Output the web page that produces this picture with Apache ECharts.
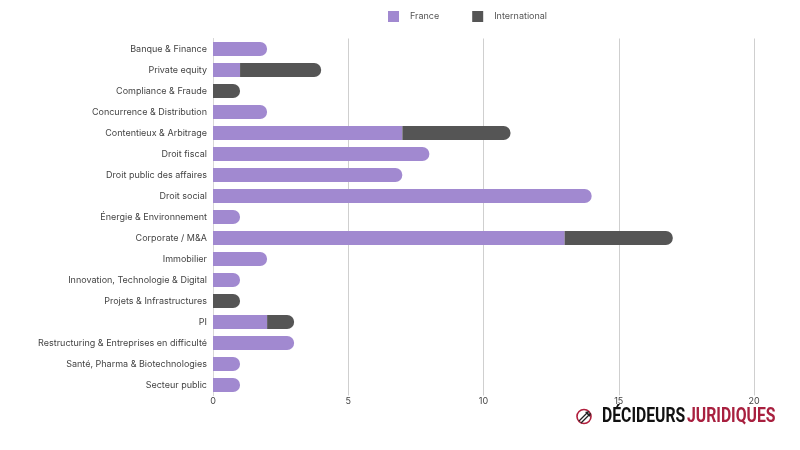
<!DOCTYPE html>
<html><head><meta charset="utf-8">
<script src="https://cdn.jsdelivr.net/npm/echarts@6/dist/echarts.min.js"></script>
<style>html,body{margin:0;padding:0;background:#fff}#c{width:800px;height:450px}</style>
</head><body><div id="c"></div>
<script>
const categories = ["Banque & Finance","Private equity","Compliance & Fraude","Concurrence & Distribution","Contentieux & Arbitrage","Droit fiscal","Droit public des affaires","Droit social","Énergie & Environnement","Corporate / M&A","Immobilier","Innovation, Technologie & Digital","Projets & Infrastructures","PI","Restructuring & Entreprises en difficulté","Santé, Pharma & Biotechnologies","Secteur public"];
const france = [2,1,0,2,7,8,7,14,1,13,2,1,0,2,3,1,1];
const international = [0,3,1,0,4,0,0,0,0,4,0,0,1,1,0,0,0];
const xTicks = [0,5,10,15,20];

const R = 7;
const franceData = france.map((v,i)=>({value: v, itemStyle:{borderRadius: international[i] ? 0 : [0,R,R,0]}}));
const intlData = international.map(v=>({value: v, itemStyle:{borderRadius:[0,R,R,0]}}));

const chart = echarts.init(document.getElementById('c'));
const FONT = 'Inter';
const LOGO_FONT = 'bold 21px Roboto, sans-serif';
chart.setOption({
  animation:false,
  textStyle:{fontFamily:FONT},
  legend:{
    top:11, left:388, padding:0, itemWidth:11, itemHeight:11, itemGap:33, icon:'rect',
    textStyle:{fontSize:9,color:'#555',fontFamily:FONT, padding:[0,0,0,6]},
    data:['France','International']
  },
  grid:{left:213, right:46, top:38.5, bottom:54.5, containLabel:false},
  xAxis:{type:'value', min:0, max:20, interval:5,
    axisLine:{show:false}, axisTick:{show:false},
    axisLabel:{fontSize:9,color:'#444',margin:1, formatter:v=>xTicks.includes(v)?String(v):''},
    splitLine:{show:true,lineStyle:{color:'#cfcfcf',width:1}}
  },
  yAxis:{type:'category', inverse:true, data:categories,
    axisLine:{show:true,lineStyle:{color:'#d8d8d8',width:1}}, axisTick:{show:false},
    axisLabel:{fontSize:9,color:'#444',margin:6}
  },
  series:[
    {name:'France', type:'bar', stack:'a', data:franceData, barWidth:14, itemStyle:{color:'#a189d0'}},
    {name:'International', type:'bar', stack:'a', data:intlData, barWidth:14, itemStyle:{color:'#555555'}}
  ],
  graphic:[
    {type:'circle', shape:{cx:584,cy:416.5,r:7}, style:{fill:'none',stroke:'#b01e3c',lineWidth:1.6}},
    {type:'line', shape:{x1:579,y1:421,x2:587,y2:413}, style:{stroke:'#222',lineWidth:1.3}},
    {type:'line', shape:{x1:581,y1:423,x2:589,y2:415}, style:{stroke:'#222',lineWidth:1.3}},
    {type:'polygon', shape:{points:[[585,412],[589,411],[588,415]]}, style:{fill:'#222'}},
    {type:'polygon', shape:{points:[[587,414],[591,413],[590,417]]}, style:{fill:'#222'}},
    {type:'text', x:602, y:417, scaleX:0.75, style:{text:'DÉCIDEURS', font:LOGO_FONT, fill:'#111', textVerticalAlign:'middle'}},
    {type:'text', x:687, y:417, scaleX:0.75, style:{text:'JURIDIQUES', font:LOGO_FONT, fill:'#a8203f', textVerticalAlign:'middle'}}
  ]
});
</script></body></html>
